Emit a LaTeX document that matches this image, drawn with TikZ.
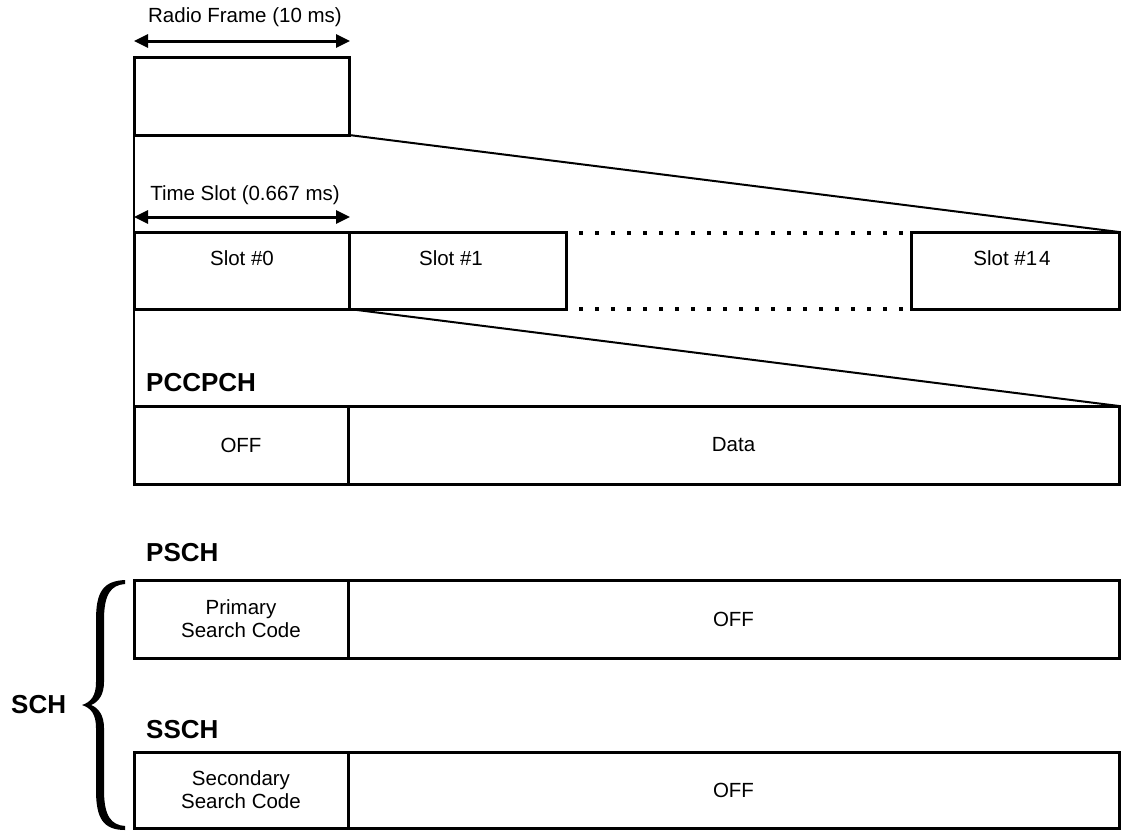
\documentclass[tikz,border=0pt]{standalone}
\usepackage{fontspec}
\setmainfont{Liberation Sans}
\usetikzlibrary{arrows.meta}
\begin{document}
\begin{tikzpicture}[x=1pt,y=-1pt,
  box/.style={draw, line width=3pt, inner sep=0pt, outer sep=0pt, anchor=north west,
    font=\fontsize{20.5}{23}\selectfont, align=center},
  txt/.style={inner sep=0pt, font=\fontsize{20.5}{23}\selectfont},
  lbl/.style={inner sep=0pt, anchor=west, font=\fontsize{26}{28}\selectfont\bfseries},
  dim/.style={line width=3pt, {Triangle[length=14pt,width=13pt]}-{Triangle[length=14pt,width=13pt]}},
  zoomline/.style={line width=2pt},
  dots/.style={line width=4pt, dash pattern=on 4pt off 12pt}]
\useasboundingbox (0,0) rectangle (1132,833);

% Radio frame
\node[txt] (rftxt) at (245,17) {Radio Frame (10 ms)};
\coordinate (rfa) at (134,41);
\coordinate (rfb) at (350,41);
\draw[dim] (rfa) -- (rfb);
\node[box, minimum width=215pt, minimum height=78pt] (rf) at (134,57) {};

% Slots
\node[txt] (tstxt) at (245,195) {Time Slot (0.667 ms)};
\coordinate (tsa) at (134,217);
\coordinate (tsb) at (350,217);
\draw[dim] (tsa) -- (tsb);
\node[box, minimum width=215pt, minimum height=77pt] (s0) at (134,232) {};
\node[box, minimum width=217pt, minimum height=77pt] (s1) at (349,232) {};
\node[box, minimum width=208pt, minimum height=77pt] (s14) at (911,232) {};
\node[txt] (s0t) at (242,258) {Slot \#0};
\node[txt] (s1t) at (451,258) {Slot \#1};
\node[txt] (s14t) at (1012,258) {Slot \#1\kern2pt4};

\coordinate (dta) at (579,233);
\coordinate (dtb) at (905,233);
\coordinate (dba) at (579,309);
\coordinate (dbb) at (905,309);
\draw[dots] (dta) -- (dtb);
\draw[dots] (dba) -- (dbb);

% zoom lines
\draw[zoomline] (rf.south east) -- (s14.north east);
\draw[zoomline] (s1.south west) -- (1119,406);
\draw[zoomline] (rf.south west) -- (s0.north west);

% PCCPCH
\node[lbl] (pccl) at (146,383) {PCCPCH};
\node[box, minimum width=214pt, minimum height=78pt] (pcc0) at (134,406) {OFF};
\node[box, minimum width=771pt, minimum height=78pt] (pcc1) at (348,406) {Data};
\draw[zoomline] (s0.south west) -- (pcc0.north west);

% PSCH
\node[lbl] (pscl) at (146,553) {PSCH};
\node[box, minimum width=214pt, minimum height=78pt] (psc0) at (134,580) {Primary\\Search Code};
\node[box, minimum width=771pt, minimum height=78pt] (psc1) at (348,580) {OFF};

% SSCH
\node[lbl] (sscl) at (146,730) {SSCH};
\node[box, minimum width=214pt, minimum height=76pt] (ssc0) at (134,752) {Secondary\\Search Code};
\node[box, minimum width=771pt, minimum height=76pt] (ssc1) at (348,752) {OFF};

% SCH brace
\node[lbl] (schl) at (11,705) {SCH};
\fill (125,580) .. controls (103,581) and (96,592) .. (96,620) -- (96,682)
  .. controls (96,696) and (91,702) .. (82,705)
  .. controls (91,708) and (96,714) .. (96,728) -- (96,790)
  .. controls (96,818) and (103,830) .. (125,830) -- (125,826)
  .. controls (111,825) and (104,816) .. (104,790) -- (104,728)
  .. controls (104,716) and (99,708) .. (91,705)
  .. controls (99,702) and (104,694) .. (104,682) -- (104,620)
  .. controls (104,594) and (111,585) .. (125,584) -- cycle;
\end{tikzpicture}
\end{document}
